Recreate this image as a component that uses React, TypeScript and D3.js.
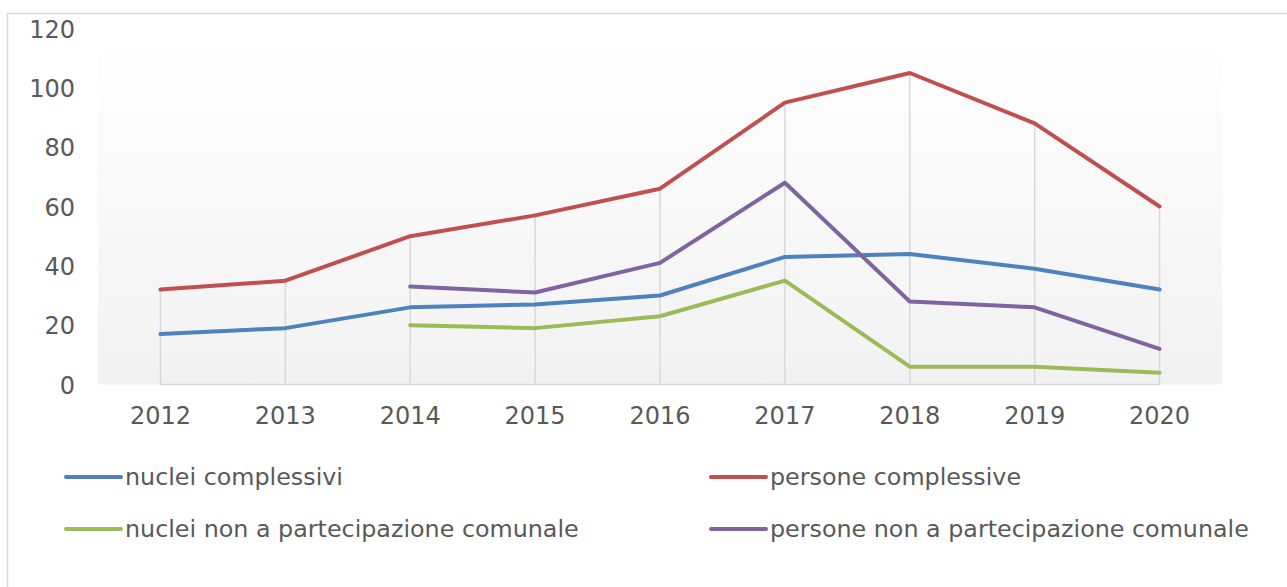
import React from "react";
import * as d3 from "d3";

const years = ["2012", "2013", "2014", "2015", "2016", "2017", "2018", "2019", "2020"];
const nucleiComplessivi: (number | null)[] = [17, 19, 26, 27, 30, 43, 44, 39, 32];
const personeComplessive: (number | null)[] = [32, 35, 50, 57, 66, 95, 105, 88, 60];
const nucleiNonComunale: (number | null)[] = [null, null, 20, 19, 23, 35, 6, 6, 4];
const personeNonComunale: (number | null)[] = [null, null, 33, 31, 41, 68, 28, 26, 12];
const yTicks = [0, 20, 40, 60, 80, 100, 120];

const series = [
  { name: "nuclei complessivi", values: nucleiComplessivi, color: "#4f81bd" },
  { name: "persone complessive", values: personeComplessive, color: "#c0504d" },
  { name: "nuclei non a partecipazione comunale", values: nucleiNonComunale, color: "#9bbb59" },
  { name: "persone non a partecipazione comunale", values: personeNonComunale, color: "#8064a2" },
];

export default function App() {
  const W = 1287, H = 587;
  const left = 98, right = 1222, top = 28.5, bottom = 384.5;
  const x = d3.scaleBand().domain(years).range([left, right]).padding(0);
  const cx = (y: string) => (x(y) as number) + x.bandwidth() / 2;
  const y = d3.scaleLinear().domain([0, 120]).range([bottom, top]);
  const font = "'DejaVu Sans', Verdana, sans-serif";
  const textColor = "#595959";

  const line = d3
    .line<number | null>()
    .defined((d) => d !== null)
    .x((_, i) => cx(years[i]))
    .y((d) => y(d as number));

  const maxes = years.map((_, i) =>
    d3.max(series.map((s) => s.values[i]).filter((v) => v !== null) as number[]) as number
  );

  const legendItems = [
    { s: series[0], lx: 66, ly: 477 },
    { s: series[1], lx: 711, ly: 477 },
    { s: series[2], lx: 66, ly: 529 },
    { s: series[3], lx: 711, ly: 529 },
  ];

  return (
    <svg
      width={W}
      height={H}
      style={{ position: "absolute", left: 0, top: 0, background: "#fff" }}
      fontFamily={font}
    >
      <defs>
        <linearGradient id="bg" x1="0" y1="0" x2="0" y2="1">
          <stop offset="0" stopColor="#ffffff" />
          <stop offset="1" stopColor="#f2f2f2" />
        </linearGradient>
      </defs>
      <rect x={7.5} y={13.5} width={W + 10} height={H + 10} fill="#fff" stroke="#d9d9d9" strokeWidth={1.5} />
      <rect x={left} y={top} width={right - left} height={bottom - top} fill="url(#bg)" />
      {years.map((yr, i) => (
        <line
          key={"drop" + yr}
          x1={cx(yr)}
          x2={cx(yr)}
          y1={y(maxes[i])}
          y2={bottom}
          stroke="#d9d9d9"
          strokeWidth={1.5}
        />
      ))}
      <line x1={cx(years[0])} x2={cx(years[years.length - 1])} y1={bottom} y2={bottom} stroke="#d9d9d9" strokeWidth={1.5} />
      {yTicks.map((t) => (
        <text
          key={"yt" + t}
          x={75}
          y={y(t) + 1}
          textAnchor="end"
          dominantBaseline="central"
          fontSize={24}
          fill={textColor}
        >
          {t}
        </text>
      ))}
      {years.map((yr) => (
        <text
          key={"xt" + yr}
          x={cx(yr)}
          y={416}
          textAnchor="middle"
          dominantBaseline="central"
          fontSize={24}
          fill={textColor}
        >
          {yr}
        </text>
      ))}
      {series.map((s) => (
        <path
          key={s.name}
          d={line(s.values) || ""}
          fill="none"
          stroke={s.color}
          strokeWidth={4}
          strokeLinejoin="round"
          strokeLinecap="round"
        />
      ))}
      {legendItems.map(({ s, lx, ly }) => (
        <g key={"lg" + s.name}>
          <line x1={lx} x2={lx + 55} y1={ly} y2={ly} stroke={s.color} strokeWidth={4} strokeLinecap="round" />
          <text x={lx + 59} y={ly} dominantBaseline="central" fontSize={23.8} fill={textColor}>
            {s.name}
          </text>
        </g>
      ))}
    </svg>
  );
}
